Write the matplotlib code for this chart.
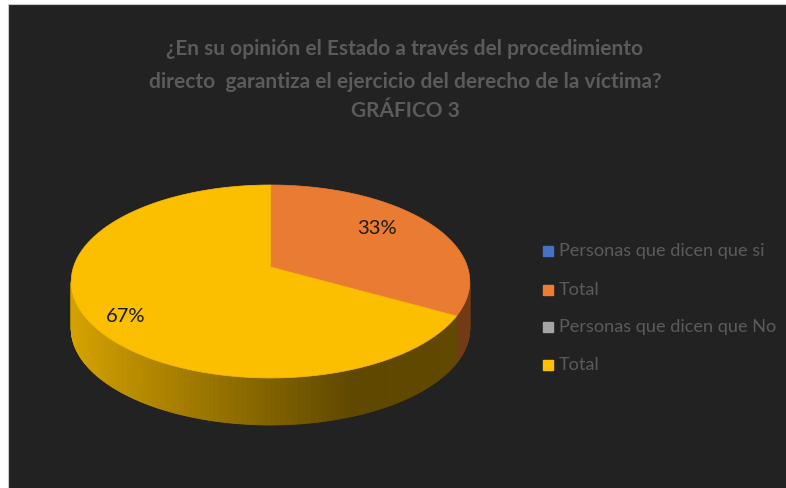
import numpy as np
import matplotlib
matplotlib.use('Agg')
import matplotlib.pyplot as plt
from matplotlib.patches import Polygon, Rectangle
from matplotlib.colors import to_rgb

# ---- data ----
categories = ['Personas que dicen que si', 'Total', 'Personas que dicen que No', 'Total']
values = [0, 33, 0, 67]
legend_colors = ['#4472C4', '#ED7D31', '#A5A5A5', '#FFC000']
title_lines = ['¿En su opinión el Estado a través del procedimiento',
               'directo  garantiza el ejercicio del derecho de la víctima?',
               'GRÁFICO 3']

# ---- style ----
W, H = 786, 488
BG = '#222222'
TXT = '#5b5b5b'
top_colors = {1: '#EA7B32', 3: '#FBBF00'}
side_dark = {1: ('#7a4018', '#6a3614'), 3: ('#d4a200', '#614900')}

fig = plt.figure(figsize=(W / 100, H / 100), dpi=100)
fig.patch.set_facecolor('white')
ax = fig.add_axes([0, 0, 1, 1])
ax.set_xlim(0, W)
ax.set_ylim(H, 0)
ax.axis('off')
ax.add_patch(Rectangle((8, 4), W, H, facecolor=BG, edgecolor='#c8c8c8', lw=0.8, zorder=0))

# pie geometry (perspective ellipse)
cx, cy = 270.5, 267.0
A, B, k = 197.0, 94.3, 0.15
depth = 47.0


def proj(theta, r=1.0):
    q = 1 + k * r * np.cos(theta)
    return cx + A * r * np.sin(theta) / q, cy - B * r * np.cos(theta) / q


total = float(sum(values))
bounds = np.concatenate([[0], np.cumsum(values)]) / total * 2 * np.pi

# side walls (visible front part)
th_min, th_max = np.arccos(-k), 2 * np.pi - np.arccos(-k)
for i in range(len(values)):
    if values[i] == 0:
        continue
    a0, a1 = bounds[i], bounds[i + 1]
    lo, hi = max(a0, th_min), min(a1, th_max)
    if hi <= lo:
        continue
    tt = np.linspace(lo, hi, max(int((hi - lo) / (th_max - th_min) * 400), 2))
    c_light = np.array(to_rgb(side_dark[i][0]))
    c_dark = np.array(to_rgb(side_dark[i][1]))
    for j in range(len(tt) - 1):
        x0, y0 = proj(tt[j])
        x1, y1 = proj(tt[j + 1])
        xm = (x0 + x1) / 2
        f = np.clip((xm - 72) / (350 - 72), 0, 1) if i == 3 else 0.5
        col = c_light * (1 - f) + c_dark * f
        ax.add_patch(Polygon([(x0, y0), (x1, y1), (x1, y1 + depth), (x0, y0 + depth)],
                             closed=True, facecolor=col, edgecolor=col, lw=0.6, zorder=2))

# top faces
for i in range(len(values)):
    if values[i] == 0:
        continue
    tt = np.linspace(bounds[i], bounds[i + 1], 200)
    pts = [proj(t) for t in tt] + [(cx, cy)]
    ax.add_patch(Polygon(pts, closed=True, facecolor=top_colors[i], edgecolor=top_colors[i],
                         lw=0.5, zorder=3))

# data labels
label_r = {1: 0.66, 3: 0.80}
label_dy = {1: -8, 3: 9}
for i in range(len(values)):
    if values[i] == 0:
        continue
    mid = (bounds[i] + bounds[i + 1]) / 2
    lx, ly = proj(mid, label_r[i])
    ax.text(lx, ly + label_dy[i], f'{values[i] / total * 100:.0f}%', ha='center', va='center',
            fontsize=14.5, family='Lato', color='#1a1a1a', zorder=5)

# title
for line, y in zip(title_lines, [49, 82, 111]):
    ax.text(405, y, line, ha='center', va='center', fontsize=15, family='Lato',
            fontweight='bold', color=TXT, zorder=5)

# legend
for lbl, col, y in zip(categories, legend_colors, [251, 290, 327, 365]):
    ax.add_patch(Rectangle((543, y - 5), 10, 10, facecolor=col, edgecolor=col, zorder=5))
    ax.text(559, y, lbl, ha='left', va='center', fontsize=13.1, family='Lato',
            color=TXT, zorder=5)

fig.savefig('out.png', dpi=100, facecolor=fig.get_facecolor())
